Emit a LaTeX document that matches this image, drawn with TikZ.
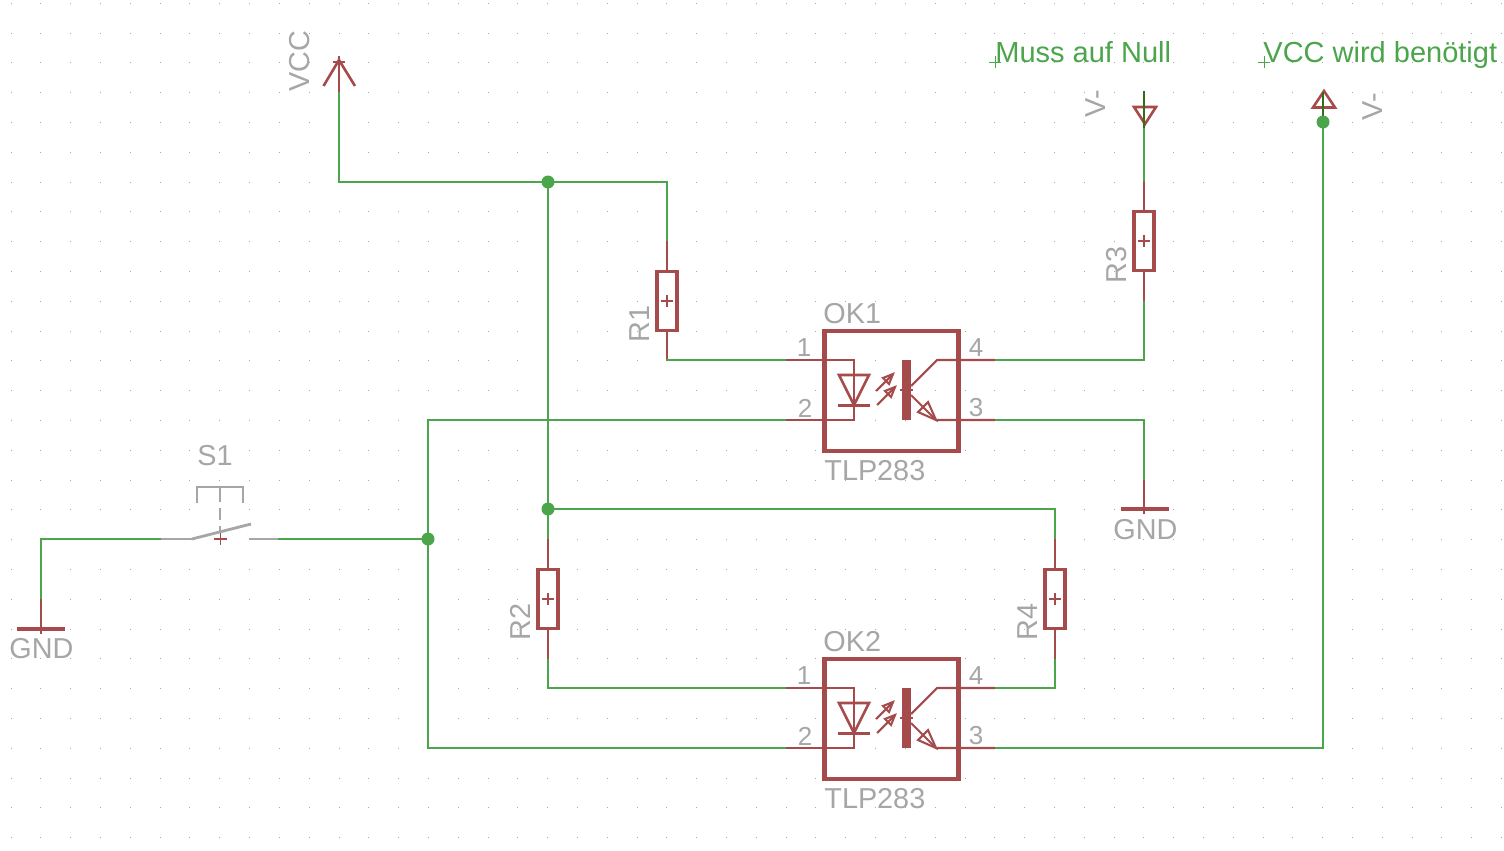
\documentclass[tikz,border=0pt]{standalone}
\usepackage{fontspec}
\setmainfont{Liberation Sans}
\definecolor{netgreen}{RGB}{75,165,75}
\definecolor{symred}{RGB}{165,75,75}
\definecolor{namegray}{RGB}{166,166,166}
\definecolor{darknet}{RGB}{50,110,25}
\tikzset{
    wire/.style={netgreen, line width=1.05pt},
    lead/.style={symred, line width=1.05pt},
    sym/.style={symred, line width=1.3pt},
    thinsym/.style={symred, line width=0.6pt},
    stub/.style={darknet, line width=1.05pt},
    swpart/.style={namegray, line width=1.4pt},
    junction/.style={circle, fill=netgreen, inner sep=0, minimum size=6.5pt},
    resbox/.style={draw=symred, line width=1.9pt, rectangle, inner sep=0, outer sep=0, minimum width=10pt, minimum height=29.5pt},
    okbox/.style={draw=symred, line width=2.25pt, rectangle, inner sep=0, outer sep=0, minimum width=67pt, minimum height=60pt},
    lbl/.style={namegray, inner sep=0, anchor=base west, font=\fontsize{14.4}{14.4}\selectfont},
    pinlbl/.style={namegray, inner sep=0, font=\fontsize{13}{13}\selectfont},
    note/.style={netgreen, inner sep=0, anchor=base west, font=\fontsize{14.5}{14.5}\selectfont},
}
\begin{document}
\begin{tikzpicture}[x=0.5pt,y=-0.5pt]

    \fill[white] (0,0) rectangle (1504,851);
    \useasboundingbox (0,0) rectangle (1504,851);

    \foreach \i in {0,...,50} \foreach \j in {0,...,28}
        \fill[namegray] (11.1+29.81*\i-0.5,3.2+29.8*\j-0.5) rectangle ++(1,1);

    \coordinate (vcctip) at (339,60);
    \coordinate (vccend) at (339,92);
    \coordinate (topjoin) at (548,182);
    \coordinate (midjoin) at (548,509);
    \coordinate (swjoin) at (428,539);
    \coordinate (vminus) at (1144,128);
    \coordinate (vplus) at (1323,122);

    \node[resbox] (R1) at (667,301) {};
    \node[resbox] (R2) at (548,599) {};
    \node[resbox] (R3) at (1144,241) {};
    \node[resbox] (R4) at (1055,599) {};

    \foreach \r in {R1,R2,R3,R4} {
        \draw[thinsym] (\r.center) ++(-6,0) -- ++(12,0);
        \draw[thinsym] (\r.center) ++(0,-6) -- ++(0,12);
        \coordinate (top\r) at ([yshift=15.25pt]\r.north);
        \coordinate (bot\r) at ([yshift=-15.25pt]\r.south);
        \draw[lead] (\r.north) -- (top\r);
        \draw[lead] (\r.south) -- (bot\r);
    }

    \foreach \n/\yo in {1/0,2/328} {
        \node[okbox] (OK\n) at (891.5,391+\yo) {};
        \coordinate (pina\n) at (786,360+\yo);
        \coordinate (pinb\n) at (786,420+\yo);
        \coordinate (pinc\n) at (995,360+\yo);
        \coordinate (pind\n) at (995,420+\yo);

        \draw[lead] (pina\n) -| (854,420+\yo) -- (pinb\n);
        \draw[lead] (pinc\n) -- (937,360+\yo) -- (911,386+\yo);
        \draw[lead] (pind\n) -- (936,420+\yo) -- (911,395+\yo);
        \fill[symred] (902,360+\yo) rectangle (911,420+\yo);
        \draw[thinsym] (900,390+\yo) -- (913,390+\yo);

        \draw[sym] (839,375+\yo) -- (869,375+\yo) -- (854,405+\yo) -- cycle;
        \draw[symred, line width=1.5pt] (838,405+\yo) -- (870,405+\yo);

        \draw[lead] (876,391+\yo) -- (893,374+\yo);
        \draw[lead] (893,374+\yo) -- (883,378+\yo) -- (889,384+\yo) -- cycle;
        \draw[lead] (877,405+\yo) -- (895,387+\yo);
        \draw[lead] (895,387+\yo) -- (885,391+\yo) -- (891,397+\yo) -- cycle;
        \draw[lead] (936,420+\yo) -- (918,412+\yo) -- (928,402+\yo) -- cycle;

        \node[pinlbl] (pinone\n) at (804,348+\yo) {1};
        \node[pinlbl] (pintwo\n) at (805,408+\yo) {2};
        \node[pinlbl] (pinfour\n) at (976,348+\yo) {4};
        \node[pinlbl] (pinthree\n) at (976,408+\yo) {3};
        \node[lbl] (name\n) at (823,323+\yo) {OK\n};
        \node[lbl] (type\n) at (824,480+\yo) {TLP283};
    }

    \draw[wire] (vccend) |- (topjoin) -| (topR1);
    \draw[wire] (topjoin) -- (topR2);
    \draw[wire] (midjoin) -| (topR4);
    \draw[wire] (botR1) |- (pina1);
    \draw[wire] (botR2) |- (pina2);
    \draw[wire] (botR3) |- (pinc1);
    \draw[wire] (botR4) |- (pinc2);
    \draw[wire] (pinb1) -| (swjoin);
    \draw[wire] (pinb2) -| (swjoin);
    \draw[wire] (pind2) -| (vplus);
    \draw[wire] (vminus) -- (topR3);

    \coordinate (gndr) at (1144,480);
    \coordinate (gndrbar) at (1144,509);
    \coordinate (gndl) at (41,599);
    \coordinate (gndlbar) at (41,629);
    \coordinate (swl) at (161,539);
    \coordinate (swr) at (278,539);
    \draw[wire] (pind1) -| (gndr);
    \draw[wire] (gndl) |- (swl);
    \draw[wire] (swr) -- (swjoin);

    \draw[lead] (gndr) -- (gndrbar);
    \draw[lead] (gndl) -- (gndlbar);
    \draw[symred, line width=2pt] (1121,509) -- (1169,509);
    \draw[symred, line width=2pt] (17,629) -- (65,629);
    \draw[thinsym] (gndrbar) -- ++(0,5);
    \draw[thinsym] (gndlbar) -- ++(0,5);

    \draw[lead] (vccend) -- (vcctip);
    \draw[sym] (323.5,86) -- (vcctip) -- (355,86);
    \draw[thinsym] (333,62) -- (345,62);
    \draw[thinsym] (339,56) -- (339,68);

    \draw[sym] (1134,107) -- (1156,107) -- (1145,124) -- cycle;
    \draw[sym] (1313,107.5) -- (1335,107.5) -- (1324,91) -- cycle;
    \draw[stub] (1144,91) -- (vminus);
    \draw[stub] (1323,92) -- (vplus);

    \node[junction] (j1) at (topjoin) {};
    \node[junction] (j2) at (midjoin) {};
    \node[junction] (j3) at (swjoin) {};
    \node[junction] (j4) at (vplus) {};

    \draw[swpart] (swl) -- (193,539);
    \draw[swpart] (249,539) -- (swr);
    \draw[swpart] (192,539) -- (251,524);
    \draw[swpart] (197,503) |- (243,487) -- (243,503);
    \draw[swpart, dash pattern=on 7.5pt off 3pt on 6pt off 3pt, line width=1pt] (220,487) -- (220,533);
    \draw[thinsym] (214,539) -- (227,539);
    \draw[thinsym] (220.5,533) -- (220.5,545);

    \node[lbl, rotate=90] (vcclbl) at (309,92) {VCC};
    \node[lbl, rotate=90] (vmlbl) at (1105,118) {V-};
    \node[lbl, rotate=90] (vplbl) at (1382,121) {V-};
    \node[lbl, rotate=90] (r1lbl) at (649,343) {R1};
    \node[lbl, rotate=90] (r2lbl) at (530,641) {R2};
    \node[lbl, rotate=90] (r3lbl) at (1126,284) {R3};
    \node[lbl, rotate=90] (r4lbl) at (1037,641) {R4};
    \node[lbl] (s1lbl) at (197,465) {S1};
    \node[lbl] (gndllbl) at (9,658) {GND};
    \node[lbl] (gndrlbl) at (1113,539) {GND};

    \node[note] (note1) at (995,62) {Muss auf Null};
    \node[note] (note2) at (1263,62) {VCC wird benötigt};
    \draw[netgreen, line width=0.5pt] (989,62) -- (1001,62);
    \draw[netgreen, line width=0.5pt] (995,56) -- (995,68);
    \draw[netgreen, line width=0.5pt] (1258,62) -- (1270,62);
    \draw[netgreen, line width=0.5pt] (1264,56) -- (1264,68);

\end{tikzpicture}
\end{document}
